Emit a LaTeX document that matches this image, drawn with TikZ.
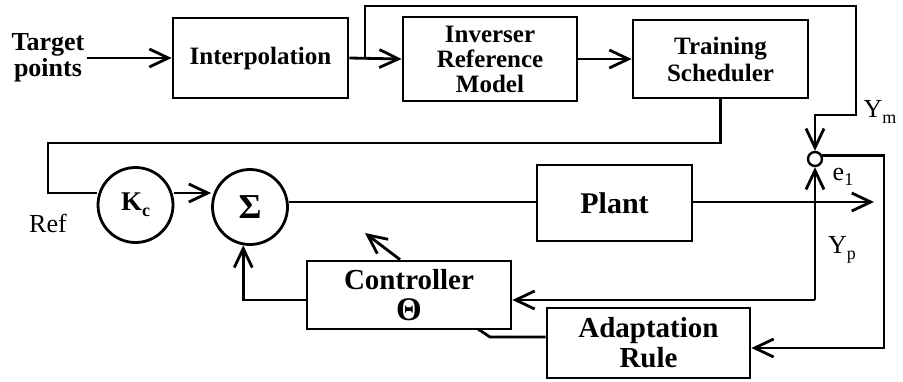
\documentclass[tikz,border=0pt]{standalone}
\usepackage{fontspec}
\setmainfont{Liberation Serif}
\usetikzlibrary{arrows.meta,calc}
\newcommand\lowsub[1]{\raisebox{-0.45ex}{\fontsize{18}{18}\selectfont #1}}
\begin{document}
\begin{tikzpicture}[x=1pt,y=-1pt,
  line width=2.8pt,
  arr/.style={-{Straight Barb[length=19pt,width=18pt]}},
  box/.style={draw,line width=2.8pt,inner sep=0pt,align=center,
    font=\bfseries\fontsize{25}{25}\selectfont},
  bigbox/.style={box,font=\bfseries\fontsize{30}{30}\selectfont},
  circ/.style={draw,circle,line width=2.8pt,inner sep=0pt,minimum size=75pt},
  lbl/.style={inner sep=0pt,font=\fontsize{26}{26}\selectfont}]
\useasboundingbox (0,0) rectangle (903,381);
% blocks
\node[inner sep=1pt,align=center,font=\bfseries\fontsize{26}{26}\selectfont] (tgt) at (48,58) {Target\\points};
\node[box,minimum width=175pt,minimum height=80pt] (interp) at (260.5,58) {Interpolation};
\node[box,minimum width=174pt,minimum height=84pt] (inv) at (490,59) {Inverser\\Reference\\Model};
\node[box,minimum width=175pt,minimum height=78pt,font=\bfseries\fontsize{25}{27}\selectfont] (train) at (720.5,59) {Training\\Scheduler};
\node[circ,font=\bfseries\fontsize{27}{27}\selectfont] (kc) at (135.5,205) {K\lowsub{\bfseries c}};
\node[circ,font=\bfseries\fontsize{35}{35}\selectfont] (sig) at (250,207) {Σ};
\node[bigbox,minimum width=155pt,minimum height=76pt] (plant) at (614.5,203) {Plant};
\node[bigbox,minimum width=204pt,minimum height=68pt,font=\bfseries\fontsize{29}{31}\selectfont] (ctrl) at (409,295) {Controller\\{\fontsize{33}{33}\selectfont Θ}};
\node[bigbox,minimum width=203pt,minimum height=70pt,font=\bfseries\fontsize{29}{30}\selectfont] (adapt) at (648.5,343) {Adaptation\\Rule};
\node[draw,circle,line width=2.4pt,inner sep=0pt,minimum size=14pt] (cmp) at (815,159) {};
% coordinates
\coordinate (br) at (365,58);
\coordinate (t1) at (856,6);
\coordinate (t2) at (815,115);
\coordinate (l1) at (48,143);
\coordinate (kin) at (48,193);
\coordinate (sin) at (211,193);
\coordinate (sout) at (287,202);
\coordinate (out) at (874,202);
\coordinate (yp) at (815,300);
\coordinate (r1) at (884,348);
\coordinate (dtip) at (365,233);
\coordinate (a1) at (490,337);
\coordinate (a2) at (478,329);
% connectors
\draw[arr] (tgt.east) -- (interp.west);
\draw[arr] (interp.east) -- (inv.west);
\draw[arr] (inv.east) -- (train.west);
\draw[arr] (br) |- (t1) |- (t2) -- (cmp.north);
\draw (train.south) |- (l1) -- (kin) -- (kin -| kc.west);
\draw[arr] (kin -| kc.east) -- (sin -| sig.west);
\draw (sout -| sig.east) -- (sout -| plant.west);
\draw[arr] (sout -| plant.east) -- (out);
\draw[arr] (yp) -- (cmp.south);
\draw[arr] (yp) -- (yp -| ctrl.east);
\draw[arr] (ctrl.west |- yp) -| (sig.260);
\draw[arr] ($(ctrl.north)+(-9,0)$) -- (dtip);
\draw[arr] (cmp.25) -| (r1) -- (r1 -| adapt.east);
\draw (adapt.west |- a1) -- (a1) -- (a2);
% labels
\node[lbl] at (880,112) {Y\lowsub{m}};
\node[lbl] at (843,177) {e\lowsub{1}};
\node[lbl] at (842,250) {Y\lowsub{p}};
\node[lbl] at (48,223) {Ref};
\end{tikzpicture}
\end{document}
